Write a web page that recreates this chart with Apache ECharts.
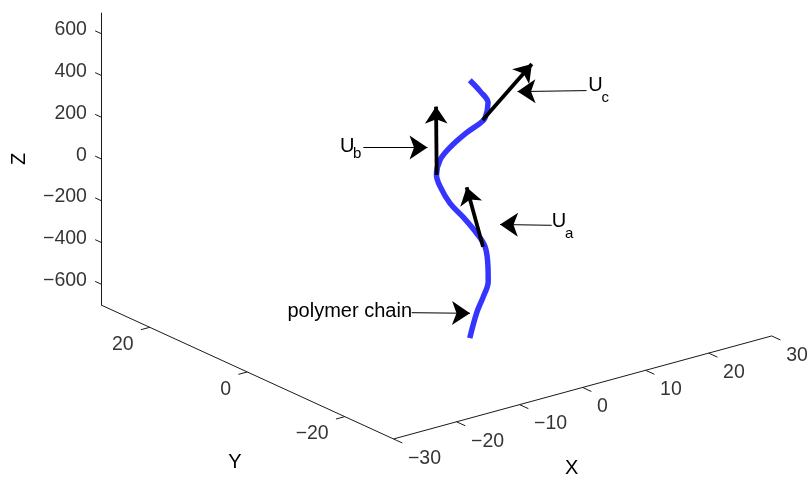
<!DOCTYPE html>
<html><head><meta charset="utf-8">
<script src="https://cdn.jsdelivr.net/npm/echarts@6/dist/echarts.min.js"></script>
<style>html,body{margin:0;padding:0;background:#fff}#c{width:811px;height:477px}</style>
</head><body><div id="c"></div>
<script>
// ---------- data (3D, in axis units) ----------
const chainX = [-0.5, -0.1, 0.4, 0.8, 0.3, -0.7, -2.5, -5.1, -7.6, -9.6, -10.5, -10.4, -9.2, -7.0, -5.1, -4.5, -4.4, -6.0, -8.0];
const chainY = [-7.5, -8.4, -9.1, -9.6, -10.2, -10.9, -11.5, -12.1, -12.6, -13.2, -13.6, -14.2, -14.6, -15.2, -15.6, -15.8, -16.3, -16.8, -17.2];
const chainZ = [-700, -573, -493, -418, -336, -224, -139, -34, 59, 161, 229, 306, 358, 418, 454, 475, 553, 625, 700];

const vecNames = ['a', 'b', 'c'];
const vecBaseX = [-1.05, -10.49, -4.79];
const vecBaseY = [-10.93, -13.63, -15.7];
const vecBaseZ = [-221, 229, 467];
const vecU = [-2.6, -0.1, 7.8];
const vecV = [0, 0, 0];
const vecW = [306, 328, 205];

const xTicks = [-30, -20, -10, 0, 10, 20, 30];
const yTicks = [-20, 0, 20];
const zTicks = [-600, -400, -200, 0, 200, 400, 600];
const xLim = [-30, 30], yLim = [-30, 30], zLim = [-700, 700];
const axisNames = ['X', 'Y', 'Z'];
const chainLabel = 'polymer chain';

// ---------- view / layout ----------
const VIEW = { o: [436.35, 174.3], ex: [6.303, -1.717], ey: [-4.875, -2.233], ez: [0, -0.2088] };
function P(x, y, z) {
  return [VIEW.o[0] + x * VIEW.ex[0] + y * VIEW.ey[0] + z * VIEW.ez[0],
          VIEW.o[1] + x * VIEW.ex[1] + y * VIEW.ey[1] + z * VIEW.ez[1]];
}
const FONT = '"Liberation Sans", Arial, Helvetica, sans-serif';
const fmt = v => String(v).replace('-', '\u2212');

// axis lines (MATLAB 3D, box off)
const axisLines = [
  { coords: [P(xLim[0], yLim[0], zLim[0]), P(xLim[1], yLim[0], zLim[0])] },
  { coords: [P(xLim[0], yLim[0], zLim[0]), P(xLim[0], yLim[1], zLim[0])] },
  { coords: [P(xLim[0], yLim[1], zLim[0]), P(xLim[0], yLim[1], zLim[1])] }
];
xTicks.forEach(t => axisLines.push({ coords: [P(t, yLim[0], zLim[0]), P(t, yLim[0] - 1.8, zLim[0])] }));
yTicks.forEach(t => axisLines.push({ coords: [P(xLim[0], t, zLim[0]), P(xLim[0] - 1.4, t, zLim[0])] }));
zTicks.forEach(t => axisLines.push({ coords: [P(xLim[0], yLim[1], t), P(xLim[0], yLim[1] + 1.2, t)] }));

// chain
const chainPts = chainX.map((x, i) => P(x, chainY[i], chainZ[i]));

// vectors
const HEAD_L = 17, HEAD_W = 15;
const vecLines = vecNames.map((n, i) => ({
  coords: [P(vecBaseX[i], vecBaseY[i], vecBaseZ[i]),
           P(vecBaseX[i] + vecU[i], vecBaseY[i] + vecV[i], vecBaseZ[i] + vecW[i])]
}));

// annotations (figure-level arrows): [tail, tip]
const annoArrows = [
  [[411.7, 312.7], [470, 313.3]],
  [[551.7, 225.3], [500, 224.5]],
  [[363.3, 147.5], [427.5, 147.5]],
  [[586.5, 90.6], [517.5, 91.6]]
];
const A_L = 18, A_W = 13;
const annoLines = annoArrows.map(([t, h]) => ({ coords: [t, h] }));

function tickSeries(pts, labels, offset, align) {
  return {
    type: 'scatter', silent: true, symbolSize: 0.1,
    itemStyle: { color: 'rgba(0,0,0,0)' },
    data: pts.map((p, i) => ({ value: p, name: labels[i] })),
    label: {
      show: true, position: offset, align: align, verticalAlign: 'middle',
      formatter: p => p.name, color: '#000', fontSize: 19.5, fontFamily: FONT
    },
    z: 5
  };
}

const chart = echarts.init(document.getElementById('c'), null, { renderer: 'canvas' });
const txt = (text, x, y, size, align, extra) => Object.assign({
  type: 'text', x: x, y: y,
  style: { text: text, fontSize: size, fontFamily: FONT, fill: '#000', align: align, verticalAlign: 'middle' }
}, extra || {});

chart.setOption({
  animation: false,
  backgroundColor: '#fff',
  grid: { left: 0, right: 0, top: 0, bottom: 0 },
  xAxis: { type: 'value', min: 0, max: 811, show: false },
  yAxis: { type: 'value', min: 0, max: 477, inverse: true, show: false },
  series: [
    { type: 'lines', coordinateSystem: 'cartesian2d', silent: true, symbol: 'none',
      lineStyle: { color: '#1a1a1a', width: 1, opacity: 1 }, data: axisLines, z: 1 },
    { type: 'line', silent: true, data: chainPts, showSymbol: false, smooth: 0.35,
      lineStyle: { color: '#3535ff', width: 5.5, cap: 'butt', join: 'round' }, z: 2 },
    { type: 'lines', coordinateSystem: 'cartesian2d', silent: true,
      symbol: ['none', 'arrow'], symbolSize: [HEAD_W * 0.75, HEAD_L],
      lineStyle: { color: '#000', width: 3.8, opacity: 1, cap: 'butt' },
      itemStyle: { color: '#000' }, data: vecLines, z: 3 },
    { type: 'lines', coordinateSystem: 'cartesian2d', silent: true,
      symbol: ['none', 'arrow'], symbolSize: [A_W * 0.75, A_L],
      lineStyle: { color: '#000', width: 1, opacity: 1 }, data: annoLines, z: 4 },
    tickSeries(xTicks.map(t => P(t, yLim[0], zLim[0])), xTicks.map(fmt), [14.5, 19.5], 'left'),
    tickSeries(yTicks.map(t => P(xLim[0], t, zLim[0])), yTicks.map(fmt), [-16, 17.5], 'right'),
    tickSeries(zTicks.map(t => P(xLim[0], yLim[1], t)), zTicks.map(fmt), [-14, -3.5], 'right')
  ],
  graphic: [
    txt(axisNames[0], 571.7, 468, 20, 'center'),
    txt(axisNames[1], 235, 462, 20, 'center'),
    txt(axisNames[2], 19, 159, 20, 'center', { rotation: Math.PI / 2 }),
    txt(chainLabel, 412, 311.5, 20, 'right'),
    txt('U', 551.7, 221.5, 20, 'left'), txt(vecNames[0], 565, 234, 15, 'left'),
    txt('U', 340, 146, 20, 'left'), txt(vecNames[1], 353, 153.5, 15, 'left'),
    txt('U', 588.3, 85.5, 20, 'left'), txt(vecNames[2], 601.5, 98, 15, 'left')
  ]
});
</script></body></html>
